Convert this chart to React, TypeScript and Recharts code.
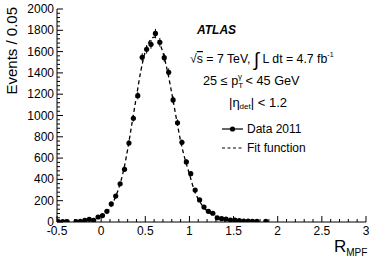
import {
  ComposedChart,
  XAxis,
  YAxis,
  Line,
  Scatter,
  ErrorBar,
} from "recharts";

// R_MPF bin centres, counts per bin and their error bars
const rValues = [
  -0.485, -0.435, -0.385, -0.285, -0.235, -0.185, -0.135, -0.085, -0.035, 0.015,
  0.065, 0.115, 0.165, 0.215, 0.265, 0.315, 0.365, 0.415, 0.465, 0.515,
  0.565, 0.615, 0.665, 0.715, 0.765, 0.815, 0.865, 0.915, 0.965, 1.015,
  1.065, 1.115, 1.165, 1.215, 1.265, 1.315, 1.365, 1.415, 1.465, 1.515,
  1.565, 1.615, 1.665, 1.715, 1.765, 1.865,
];
const counts = [
  3, 3, 3, 3, 7, 16, 25, 16, 47, 60,
  100, 170, 243, 358, 495, 742, 974, 1186, 1546, 1621,
  1668, 1771, 1687, 1543, 1405, 1146, 932, 748, 564, 454,
  300, 207, 140, 100, 82, 39, 31, 28, 19, 19,
  12, 9, 9, 6, 6, 6,
];
const countErrors = [
  2, 2, 2, 2, 3, 4, 5, 4, 7, 8,
  10, 13, 16, 19, 22, 27, 31, 34, 39, 40,
  41, 42, 41, 39, 37, 34, 31, 27, 24, 21,
  17, 14, 12, 10, 9, 6, 6, 5, 4, 4,
  3, 3, 3, 2, 2, 2,
];

// fit function sampled along the dashed curve
const fitX = [
  0.0, 0.05, 0.1, 0.15, 0.2, 0.25, 0.3, 0.35, 0.4, 0.45, 0.5, 0.55, 0.6, 0.65,
  0.7, 0.75, 0.8, 0.85, 0.9, 0.95, 1.0, 1.05, 1.1, 1.15, 1.2, 1.25, 1.3,
];
const fitY = [
  50, 80, 130, 210, 320, 470, 680, 930, 1180, 1420, 1600, 1700, 1735, 1700,
  1590, 1420, 1210, 980, 760, 590, 450, 310, 215, 150, 105, 75, 55,
];

const xTicks = [
  -0.5, -0.4, -0.3, -0.2, -0.1, 0, 0.1, 0.2, 0.3, 0.4, 0.5, 0.6, 0.7, 0.8, 0.9,
  1, 1.1, 1.2, 1.3, 1.4, 1.5, 1.6, 1.7, 1.8, 1.9, 2, 2.1, 2.2, 2.3, 2.4, 2.5,
  2.6, 2.7, 2.8, 2.9, 3,
];
const xMajor = [-0.5, 0, 0.5, 1, 1.5, 2, 2.5, 3];
const yTicks = Array.from({ length: 51 }, (_, i) => i * 40);

const dataPts = rValues.map((x, i) => ({ x, v: counts[i], err: countErrors[i] }));
const fitPts = fitX.map((x, i) => ({ x, v: fitY[i] }));

const FONT = "'Liberation Sans', Arial, Helvetica, sans-serif";
const isMajorX = (v: number) => xMajor.some((m) => Math.abs(m - v) < 1e-6);

const BottomTick = (props: any) => {
  const { x, y, payload } = props;
  const major = isMajorX(payload.value);
  return (
    <g>
      <line x1={x} y1={y} x2={x} y2={y - (major ? 6 : 3)} stroke="#000" />
      {major && (
        <text x={x} y={y + 13} textAnchor="middle" fontSize={12} fontFamily={FONT} fill="#000">
          {String(payload.value)}
        </text>
      )}
    </g>
  );
};

const TopTick = (props: any) => {
  const { x, y, payload } = props;
  const major = isMajorX(payload.value);
  return <line x1={x} y1={y} x2={x} y2={y + (major ? 6 : 3)} stroke="#000" />;
};

const LeftTick = (props: any) => {
  const { x, y, payload } = props;
  const major = payload.value % 200 === 0;
  return (
    <g>
      <line x1={x} y1={y} x2={x + (major ? 6 : 3)} y2={y} stroke="#000" />
      {major && (
        <text x={x - 3} y={y + 4} textAnchor="end" fontSize={12} fontFamily={FONT} fill="#000">
          {payload.value}
        </text>
      )}
    </g>
  );
};

const RightTick = (props: any) => {
  const { x, y, payload } = props;
  const major = payload.value % 200 === 0;
  return <line x1={x} y1={y} x2={x - (major ? 6 : 3)} y2={y} stroke="#000" />;
};

export default function App() {
  return (
    <div style={{ position: "absolute", left: 0, top: 0, width: 374, height: 272, background: "#fff" }}>
      <ComposedChart
        width={374}
        height={272}
        margin={{ top: 9, right: 8, left: 0, bottom: 0 }}
      >
        <XAxis
          dataKey="x"
          type="number"
          domain={[-0.5, 3]}
          ticks={xTicks}
          interval={0}
          height={50}
          tickSize={0}
          tickMargin={0}
          tick={<BottomTick />}
          axisLine={{ stroke: "#000" }}
          allowDataOverflow
        />
        <XAxis
          xAxisId="top"
          orientation="top"
          dataKey="x"
          type="number"
          domain={[-0.5, 3]}
          ticks={xTicks}
          interval={0}
          height={0}
          tickSize={0}
          tickMargin={0}
          tick={<TopTick />}
          axisLine={{ stroke: "#000" }}
          allowDataOverflow
        />
        <YAxis
          type="number"
          domain={[0, 2000]}
          ticks={yTicks}
          interval={0}
          width={57}
          tickSize={0}
          tickMargin={0}
          tick={<LeftTick />}
          axisLine={{ stroke: "#000" }}
          allowDataOverflow
        />
        <YAxis
          yAxisId="right"
          orientation="right"
          type="number"
          domain={[0, 2000]}
          ticks={yTicks}
          interval={0}
          width={0}
          tickSize={0}
          tickMargin={0}
          tick={<RightTick />}
          axisLine={{ stroke: "#000" }}
          allowDataOverflow
        />
        <Line
          data={fitPts}
          dataKey="v"
          type="monotone"
          stroke="#000"
          strokeWidth={1.3}
          strokeDasharray="4 3"
          dot={false}
          isAnimationActive={false}
        />
        <Scatter
          data={dataPts}
          dataKey="v"
          fill="#000"
          shape={(p: any) => <circle cx={p.cx} cy={p.cy} r={2.6} fill="#000" />}
          isAnimationActive={false}
        >
          <ErrorBar dataKey="err" direction="y" width={0} stroke="#000" strokeWidth={1} />
        </Scatter>
      </ComposedChart>
      <svg
        width={374}
        height={272}
        style={{ position: "absolute", left: 0, top: 0, pointerEvents: "none" }}
        fontFamily={FONT}
      >
        <text transform="translate(17,7) rotate(-90)" textAnchor="end" fontSize={15} fill="#000">
          Events / 0.05
        </text>
        <text x={334} y={252} fontSize={17} fill="#000">
          R<tspan fontSize={10} dy={4}>MPF</tspan>
        </text>
        <text x={197} y={34} fontSize={12} fontWeight="bold" fontStyle="italic" fill="#000">
          ATLAS
        </text>
        <text x={190} y={63} fontSize={12.3} fill="#000">
          √<tspan style={{ textDecoration: "overline" }}>s</tspan> = 7 TeV,{" "}
          <tspan fontSize={19} dy={3}>∫</tspan>
          <tspan dy={-3}> L dt = 4.7 fb</tspan>
          <tspan fontSize={7} dy={-6}>-1</tspan>
        </text>
        <text x={203} y={85} fontSize={12.7} fill="#000">
          25 ≤ p<tspan fontSize={8} dy={3}>T</tspan>
          <tspan fontSize={8} dx={-5} dy={-9}>γ</tspan>
          <tspan dy={6}> &lt; 45 GeV</tspan>
        </text>
        <text x={229} y={107} fontSize={13} fill="#000">
          |η<tspan fontSize={8} dy={2}>det</tspan>
          <tspan dy={-2}>| &lt; 1.2</tspan>
        </text>
        <line x1={222} y1={129} x2={243} y2={129} stroke="#000" strokeWidth={1.2} />
        <circle cx={232.5} cy={129} r={2.6} fill="#000" />
        <text x={247} y={133} fontSize={12} fill="#000">Data 2011</text>
        <line x1={222} y1={148} x2={243} y2={148} stroke="#000" strokeWidth={1.2} strokeDasharray="3 2.5" />
        <text x={247} y={152} fontSize={12} fill="#000">Fit function</text>
      </svg>
    </div>
  );
}
